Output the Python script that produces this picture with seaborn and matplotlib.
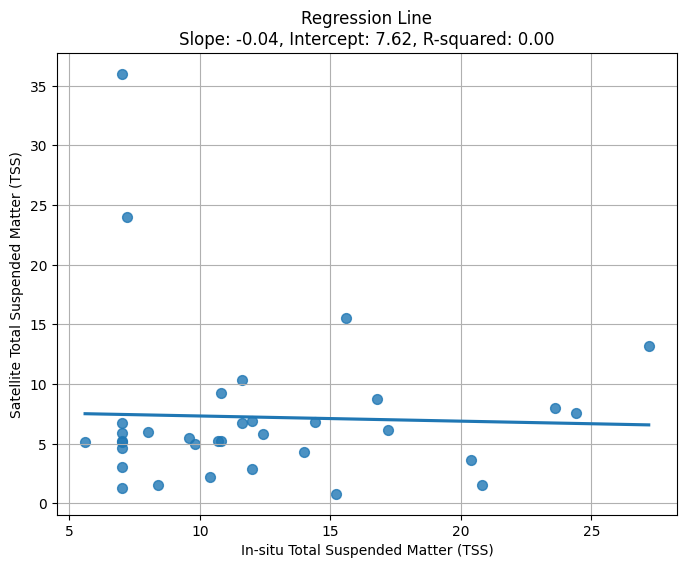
import numpy as np
import matplotlib.pyplot as plt
import seaborn as sns

# values
insitu = [7.0, 7.2, 15.6, 27.2, 11.6, 10.8, 16.8, 23.6, 24.4, 7.0, 7.0, 7.0, 7.0, 7.0, 7.0, 7.0,
          5.6, 8.0, 9.6, 9.8, 10.7, 10.8, 11.6, 12.0, 12.4, 14.4, 17.2, 14.0, 20.4, 12.0, 10.4,
          8.4, 20.8, 15.2]
satellite = [36.0, 24.0, 15.5, 13.2, 10.3, 9.2, 8.7, 8.0, 7.6, 6.7, 5.9, 5.2, 5.1, 4.6, 3.0, 1.3,
             5.1, 6.0, 5.5, 5.0, 5.2, 5.2, 6.7, 6.9, 5.8, 6.8, 6.1, 4.3, 3.6, 2.9, 2.2,
             1.5, 1.5, 0.8]

slope = -0.04
intercept = 7.62
r_squared = 0.00

plt.figure(figsize=(8, 6))
sns.regplot(x=insitu, y=satellite, ci=None, scatter_kws={'s': 50})
plt.xlabel('In-situ Total Suspended Matter (TSS)')
plt.ylabel('Satellite Total Suspended Matter (TSS)')
plt.title('Regression Line\nSlope: {:.2f}, Intercept: {:.2f}, R-squared: {:.2f}'.format(slope, intercept, r_squared))
plt.grid(True)
plt.savefig('out.png', dpi=100, bbox_inches='tight')
